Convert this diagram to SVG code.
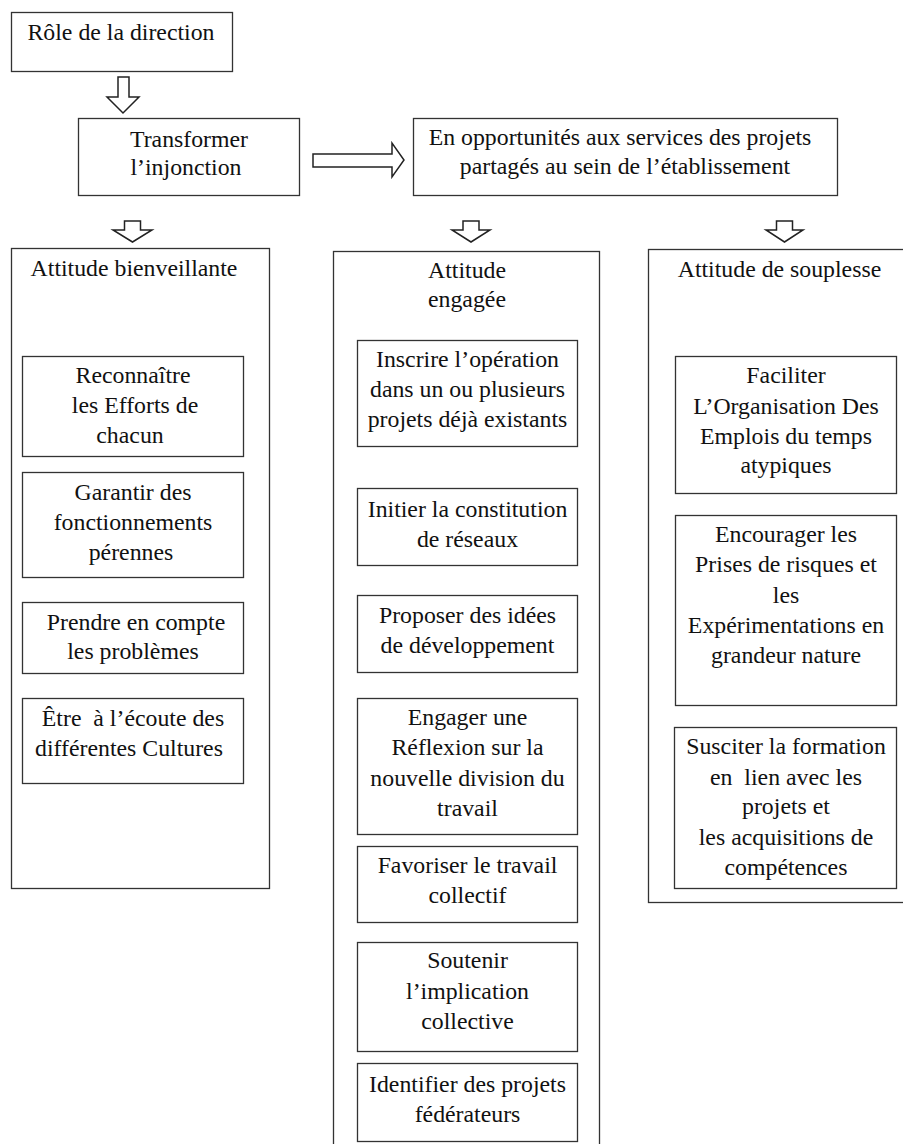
<svg xmlns="http://www.w3.org/2000/svg" width="903" height="1144" viewBox="0 0 903 1144">
<style>
.box{fill:#fff;stroke:#333;stroke-width:1.3}
.arrow{fill:#fff;stroke:#222;stroke-width:1.5;stroke-linejoin:miter}
text{font-family:"Liberation Serif","Times New Roman",serif;font-size:23.8px;fill:#111;text-anchor:middle}
</style>
<rect x="0" y="0" width="903" height="1144" fill="#fff"/>
<g id="connectors">
<polygon class="arrow" points="118,77 129,77 129,97 139,97 123,113 107,97 118,97"/>
<polygon class="arrow" points="313,154 392,154 392,143 404,160 392,177 392,167 313,167"/>
<polygon class="arrow" points="124.5,221 140.5,221 140.5,230 152,230 132.5,242 113,230 124.5,230"/>
<polygon class="arrow" points="463,221 479,221 479,230 490,230 471,242 452,230 463,230"/>
<polygon class="arrow" points="776.5,221 792.5,221 792.5,230 803,230 784.5,242 766,230 776.5,230"/>
</g>
<g id="role">
<rect class="box" x="11.5" y="12.5" width="221" height="59"/>
<text x="121" y="40">Rôle de la direction</text>
</g>
<g id="transformer">
<rect class="box" x="78.5" y="118.5" width="221" height="77"/>
<text x="189" y="147">Transformer</text>
<text x="186" y="175">l’injonction</text>
</g>
<g id="opportunites">
<rect class="box" x="413.5" y="118.5" width="424" height="77"/>
<text x="620" y="145">En opportunités aux services des projets</text>
<text x="625" y="174">partagés au sein de l’établissement</text>
</g>
<g id="col-bienveillante">
<rect class="box" x="11.5" y="248.5" width="258" height="640"/>
<text x="134" y="276">Attitude bienveillante</text>
</g>
<g id="col-engagee">
<rect class="box" x="333.5" y="251.5" width="266" height="900"/>
<text x="467" y="278">Attitude</text>
<text x="467" y="307">engagée</text>
</g>
<g id="col-souplesse">
<rect class="box" x="648.5" y="249.5" width="262" height="653"/>
<text x="779.5" y="277">Attitude de souplesse</text>
</g>
<g id="reconnaitre">
<rect class="box" x="22.5" y="356.5" width="221" height="100"/>
<text x="133" y="383">Reconnaître</text>
<text x="135" y="413">les Efforts de</text>
<text x="130" y="443">chacun</text>
</g>
<g id="garantir">
<rect class="box" x="22.5" y="472.5" width="221" height="105"/>
<text x="133" y="500">Garantir des</text>
<text x="133" y="530">fonctionnements</text>
<text x="131" y="560">pérennes</text>
</g>
<g id="prendre">
<rect class="box" x="22.5" y="602.5" width="221" height="71"/>
<text x="136" y="630">Prendre en compte</text>
<text x="133" y="659">les problèmes</text>
</g>
<g id="etre">
<rect class="box" x="22.5" y="698.5" width="221" height="85"/>
<text x="133" y="726" xml:space="preserve">Être  à l’écoute des</text>
<text x="129" y="756">différentes Cultures</text>
</g>
<g id="inscrire">
<rect class="box" x="357.5" y="340.5" width="220" height="106"/>
<text x="467.5" y="367">Inscrire l’opération</text>
<text x="467.5" y="397">dans un ou plusieurs</text>
<text x="467.5" y="427">projets déjà existants</text>
</g>
<g id="initier">
<rect class="box" x="357.5" y="488.5" width="220" height="77"/>
<text x="467.5" y="517">Initier la constitution</text>
<text x="467.5" y="547">de réseaux</text>
</g>
<g id="proposer">
<rect class="box" x="357.5" y="595.5" width="220" height="77"/>
<text x="467.5" y="623">Proposer des idées</text>
<text x="467.5" y="653">de développement</text>
</g>
<g id="engager">
<rect class="box" x="357.5" y="698.5" width="220" height="136"/>
<text x="467.5" y="725">Engager une</text>
<text x="467.5" y="755">Réflexion sur la</text>
<text x="467.5" y="786">nouvelle division du</text>
<text x="467.5" y="816">travail</text>
</g>
<g id="favoriser">
<rect class="box" x="357.5" y="846.5" width="220" height="76"/>
<text x="467.5" y="873">Favoriser le travail</text>
<text x="467.5" y="903">collectif</text>
</g>
<g id="soutenir">
<rect class="box" x="357.5" y="942.5" width="220" height="109"/>
<text x="467.5" y="968">Soutenir</text>
<text x="467.5" y="999">l’implication</text>
<text x="467.5" y="1029">collective</text>
</g>
<g id="identifier">
<rect class="box" x="357.5" y="1063.5" width="220" height="78"/>
<text x="467.5" y="1092">Identifier des projets</text>
<text x="467.5" y="1122">fédérateurs</text>
</g>
<g id="faciliter">
<rect class="box" x="675.5" y="356.5" width="221" height="137"/>
<text x="786" y="383">Faciliter</text>
<text x="786" y="414">L’Organisation Des</text>
<text x="786" y="444">Emplois du temps</text>
<text x="786" y="473">atypiques</text>
</g>
<g id="encourager">
<rect class="box" x="675.5" y="515.5" width="221" height="190"/>
<text x="786" y="542">Encourager les</text>
<text x="786" y="572">Prises de risques et</text>
<text x="786" y="603">les</text>
<text x="786" y="633">Expérimentations en</text>
<text x="786" y="663">grandeur nature</text>
</g>
<g id="susciter">
<rect class="box" x="674.5" y="727.5" width="222" height="161"/>
<text x="786" y="754">Susciter la formation</text>
<text x="786" y="785" xml:space="preserve">en  lien avec les</text>
<text x="786" y="814">projets et</text>
<text x="786" y="845">les acquisitions de</text>
<text x="786" y="875">compétences</text>
</g>
</svg>
